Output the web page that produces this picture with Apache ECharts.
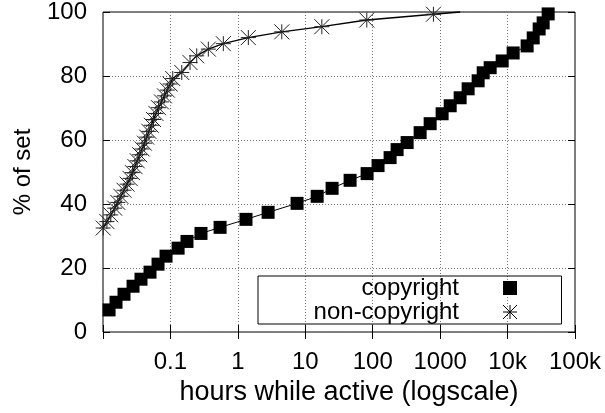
<!DOCTYPE html>
<html>
<head>
<meta charset="utf-8">
<script src="https://cdn.jsdelivr.net/npm/echarts@6/dist/echarts.min.js"></script>
<style>html,body{margin:0;padding:0;background:#fff}#c{width:605px;height:413px}</style>
</head>
<body>
<div id="c"></div>
<script>
// ---- data ----
const xTickExponents = [-2, -1, 0, 1, 2, 3, 4, 5];
const xTickLabels = ['', '0.1', '1', '10', '100', '1000', '10k', '100k'];
const yTickValues = [0, 20, 40, 60, 80, 100];

const seriesNames = ['copyright', 'non-copyright'];

const copyrightHours = [0.0123, 0.0156, 0.0205, 0.0279, 0.0366, 0.0498, 0.0655, 0.0861, 0.130, 0.176,
  0.284, 0.545, 1.32, 2.81, 7.55, 15.0, 25.0, 46.2, 82.6, 120, 181, 230, 324, 505, 711, 1070, 1410,
  1980, 2600, 3660, 4350, 5520, 8320, 12100, 19500, 24000, 29400, 33700, 40000];
const copyrightPct = [6.9, 9.3, 11.8, 14.3, 16.5, 18.7, 21.2, 23.7, 26.2, 28.3,
  30.8, 32.7, 35.2, 37.4, 40.2, 42.4, 44.9, 47.4, 49.5, 52.0, 54.5, 57.0, 59.2, 62.3, 65.1, 68.2, 70.7,
  73.2, 76.0, 78.5, 81.0, 82.6, 84.7, 87.2, 89.4, 91.9, 94.7, 96.6, 99.4];

const nonCopyrightHours = [0.01007, 0.01143, 0.01305, 0.01492, 0.01658, 0.01843, 0.02049, 0.02278,
  0.02516, 0.02731, 0.02974, 0.03217, 0.03504, 0.03803, 0.04114, 0.0445, 0.04797, 0.05208, 0.05614,
  0.06094, 0.0666, 0.07355, 0.08147, 0.08995, 0.099, 0.1082, 0.1472, 0.1954, 0.2455, 0.365, 0.609,
  1.43, 4.48, 17.6, 81.7, 795, 1980];
const nonCopyrightPct = [32.5, 34.5, 36.6, 38.7, 40.5, 42.4, 44.3, 46.2,
  48.0, 49.8, 51.7, 53.5, 55.4, 57.2, 59.0, 60.9, 62.7, 64.6, 66.4,
  68.3, 70.1, 71.9, 73.8, 75.6, 77.5, 79.2, 81.1, 84.2, 86.3, 88.4, 90.1,
  92.0, 93.8, 95.4, 97.5, 99.3, 100];

// ---- chart ----
const FONT = '"Liberation Sans", Arial, Helvetica, sans-serif';
const STAR = 'path://M5 0 L5 10 M0 5 L10 5 M0 0 L10 10 M0 10 L10 0';

function xLabel(v) {
  const e = Math.round(Math.log10(v));
  const i = xTickExponents.indexOf(e);
  return i >= 0 ? xTickLabels[i] : '';
}

const copyData = copyrightHours.map((h, i) => [h, copyrightPct[i]]);
const nonData = nonCopyrightHours.map((h, i) => {
  const item = { value: [h, nonCopyrightPct[i]] };
  if (i === nonCopyrightHours.length - 1) item.symbol = 'none';
  return item;
});

const tick = { show: true, inside: true, length: 7, lineStyle: { color: '#000', width: 1 } };
const grid = { lineStyle: { color: '#777', type: [1, 2], width: 1 } };

const xMin = Math.pow(10, xTickExponents[0]);
const xMax = Math.pow(10, xTickExponents[xTickExponents.length - 1]);

const chart = echarts.init(document.getElementById('c'), null, { renderer: 'canvas' });
chart.setOption({
  animation: false,
  backgroundColor: '#fff',
  textStyle: { fontFamily: FONT },
  grid: { left: 103, right: 30, top: 11, bottom: 81, show: true, borderColor: '#000', borderWidth: 1, backgroundColor: 'transparent' },
  legend: {
    left: 258, top: 276,
    orient: 'vertical',
    align: 'right',
    padding: [0, 42, 0, 11],
    itemGap: 0,
    itemWidth: 14, itemHeight: 14,
    borderColor: '#000', borderWidth: 1,
    data: [
      { name: seriesNames[0], icon: 'rect', itemStyle: { color: '#000' } },
      { name: seriesNames[1], icon: STAR, itemStyle: { color: 'none', borderColor: '#000', borderWidth: 1 } }
    ],
    formatter: n => '{t|' + n + '}{s|}',
    textStyle: {
      color: '#000', fontFamily: FONT, fontSize: 24,
      rich: {
        t: { width: 190, align: 'right', fontSize: 24, fontFamily: FONT, color: '#000', lineHeight: 26 },
        s: { width: 39, lineHeight: 26 }
      }
    }
  },
  xAxis: [{
    type: 'log', logBase: 10, min: xMin, max: xMax,
    axisLine: { show: false },
    axisTick: tick,
    splitLine: Object.assign({ show: true }, grid),
    axisLabel: { color: '#000', fontSize: 24, fontFamily: FONT, margin: 18, formatter: xLabel, showMinLabel: true, showMaxLabel: true },
    name: 'hours while active (logscale)',
    nameLocation: 'middle', nameGap: 36,
    nameTextStyle: { color: '#000', fontSize: 27, fontFamily: FONT, padding: [0, 0, 0, 20] }
  }, {
    type: 'log', logBase: 10, min: xMin, max: xMax, position: 'top',
    axisLine: { show: false }, axisTick: tick, axisLabel: { show: false }, splitLine: { show: false }
  }],
  yAxis: [{
    type: 'value', min: yTickValues[0], max: yTickValues[yTickValues.length - 1], interval: yTickValues[1] - yTickValues[0],
    axisLine: { show: false },
    axisTick: tick,
    splitLine: Object.assign({ show: true }, grid),
    axisLabel: { color: '#000', fontSize: 24, fontFamily: FONT, margin: 16 },
    name: '% of set', nameLocation: 'middle', nameGap: 68,
    nameTextStyle: { color: '#000', fontSize: 24, fontFamily: FONT }
  }, {
    type: 'value', min: yTickValues[0], max: yTickValues[yTickValues.length - 1], interval: yTickValues[1] - yTickValues[0],
    position: 'right',
    axisLine: { show: false }, axisTick: tick, axisLabel: { show: false }, splitLine: { show: false }
  }],
  series: [{
    name: seriesNames[0], type: 'line', data: copyData,
    symbol: 'rect', symbolSize: 13, showAllSymbol: true, clip: false,
    lineStyle: { color: '#000', width: 1 },
    itemStyle: { color: '#000' }
  }, {
    name: seriesNames[1], type: 'line', data: nonData,
    symbol: STAR, symbolSize: 15, showAllSymbol: true, clip: false,
    lineStyle: { color: '#000', width: 1.3 },
    itemStyle: { color: 'none', borderColor: '#222', borderWidth: 1 }
  }]
});
</script>
</body>
</html>
